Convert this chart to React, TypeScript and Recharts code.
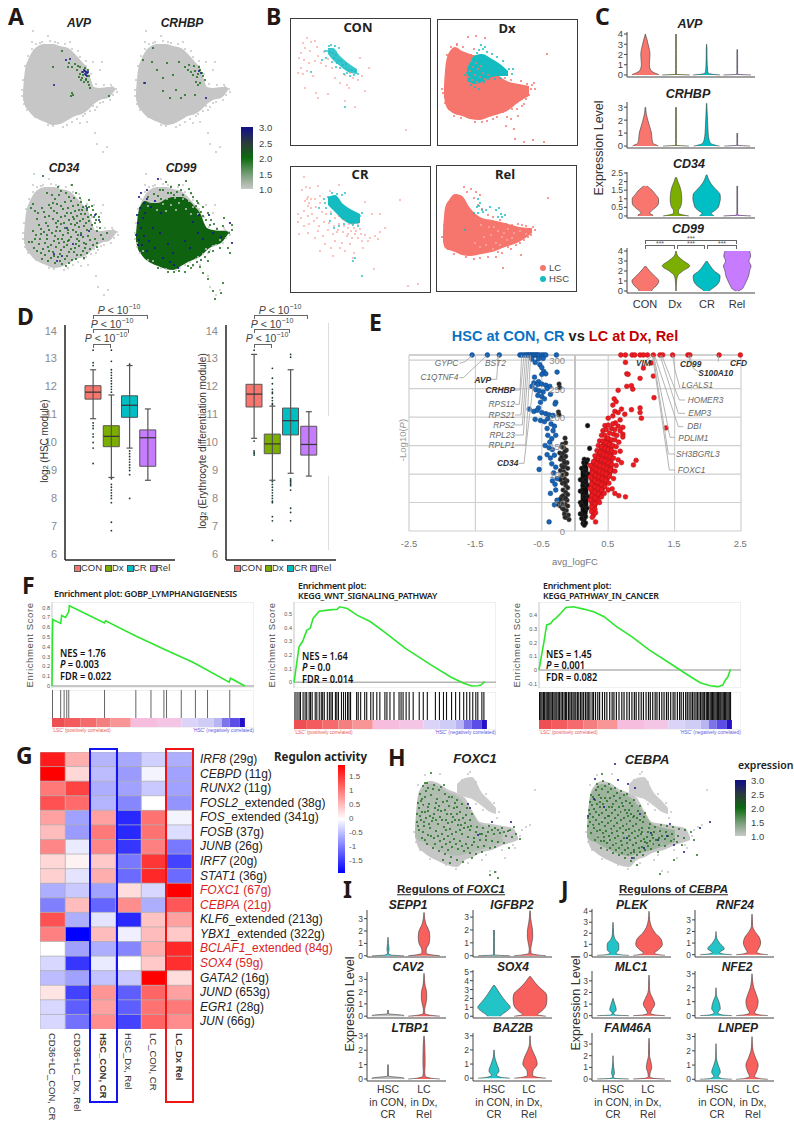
import React from "react";
import {
  Area,
  Bar,
  BarChart,
  CartesianGrid,
  Cell,
  ComposedChart,
  ErrorBar,
  Line,
  ReferenceArea,
  ReferenceLine,
  Scatter,
  XAxis,
  YAxis,
} from "recharts";

// ---------- UMAP outlines and points (panel A, B, H), in panel units ----------
const UMAP_X = [3, 5, 8, 12, 18, 25, 33, 40, 48, 55, 62, 68, 71, 74, 80, 88, 93, 95];
const UMAP_TOP = [62, 40, 30, 22, 16, 14, 14, 16, 18, 24, 32, 40, 50, 57, 58, 57, 57, 58];
const UMAP_BOTTOM = [68, 76, 80, 85, 89, 92, 95, 94, 90, 86, 84, 80, 77, 74, 70, 68, 63, 60];
const CD99_TOP = [62, 42, 32, 28, 30, 30, 26, 24, 24, 27, 34, 42, 50, 55, 57, 58, 58, 59];
const CD99_BOTTOM = [68, 76, 81, 86, 90, 93, 96, 97, 93, 89, 86, 83, 80, 77, 73, 70, 64, 61];
const UMAP_GREY = [[13, 1], [28, 6], [12, 12], [50, 12], [45, 18], [73, 32], [82, 32], [80, 40], [92, 57], [93, 65], [87, 67], [80, 73], [75, 80], [67, 92], [60, 93], [75, 103], [77, 114], [87, 117], [83, 122], [2, 60], [4, 70], [47, 95], [33, 96], [20, 88], [10, 78], [57, 89], [65, 84], [73, 76], [96, 59], [35, 12], [20, 13], [58, 21], [66, 31], [3, 50], [5, 36], [8, 26], [12, 19], [16, 14], [22, 12], [30, 11], [38, 13], [45, 14], [52, 19], [60, 27], [66, 36], [71, 44], [76, 54], [84, 55], [91, 55], [97, 62], [90, 70], [83, 72], [77, 77], [70, 81], [63, 86], [52, 92], [43, 97], [28, 95], [15, 87], [7, 80], [2, 66], [4, 74]];

const AVP_GREEN = [[57, 40], [60, 37], [62, 42], [65, 38], [63, 45], [66, 49], [68, 40], [69, 46], [60, 44], [58, 36], [66, 50], [68, 52], [62, 48], [69, 55], [70, 58], [52, 37], [48, 37], [42, 21], [55, 34], [49, 33], [33, 37], [52, 63], [53, 65], [51, 66], [89, 66], [61, 50], [64, 52], [59, 47]];
const AVP_BLUE = [[64, 40], [65, 41], [66, 42], [67, 43], [65, 44], [66, 45], [67, 46], [68, 42], [46, 30], [34, 55], [50, 29], [63, 42]];
const CRHBP_GREEN = [[65, 44], [62, 41], [60, 45], [67, 40], [69, 43], [64, 47], [70, 46], [58, 42], [66, 37], [61, 36], [10, 30], [19, 32], [20, 18], [34, 33], [30, 48], [24, 40], [11, 53], [52, 37], [55, 40], [40, 45], [67, 53], [52, 65], [48, 68], [62, 65], [37, 68], [56, 35], [46, 32], [63, 52], [65, 55], [30, 61], [43, 60], [72, 50]];
const CRHBP_BLUE = [[68, 43], [12, 53], [73, 68], [66, 41]];
const CD34_GREEN = [[22, 3], [37, 14], [45, 20], [51, 12], [26, 20], [31, 22], [38, 22], [48, 24], [53, 25], [60, 29], [68, 27], [62, 34], [66, 37], [72, 37], [75, 41], [70, 42], [78, 44], [64, 41], [58, 37], [52, 33], [44, 29], [36, 31], [28, 32], [12, 31], [10, 35], [17, 40], [23, 39], [33, 38], [42, 36], [50, 40], [56, 43], [62, 46], [68, 48], [74, 50], [79, 55], [70, 56], [63, 53], [56, 50], [48, 47], [40, 44], [32, 46], [25, 50], [18, 52], [12, 58], [8, 69], [14, 66], [20, 61], [28, 57], [36, 54], [44, 55], [52, 57], [60, 60], [67, 63], [74, 66], [80, 62], [86, 60], [72, 72], [65, 71], [58, 68], [50, 64], [42, 62], [34, 63], [26, 66], [18, 71], [13, 75], [22, 76], [30, 72], [38, 70], [46, 72], [54, 75], [62, 78], [56, 82], [48, 79], [40, 77], [32, 79], [24, 82], [30, 85], [37, 84], [44, 86], [51, 87], [41, 91], [34, 90], [27, 74], [21, 86], [45, 93], [47, 68], [35, 58], [57, 62], [66, 80], [76, 74], [53, 46], [37, 48], [16, 46], [59, 25], [24, 44], [46, 40], [71, 33], [55, 71]];
const CD34_GREEN2 = [[40, 18], [55, 20], [34, 26], [50, 28], [57, 32], [65, 33], [73, 44], [67, 44], [60, 41], [54, 38], [47, 35], [40, 33], [30, 35], [21, 35], [14, 38], [28, 43], [36, 40], [44, 43], [52, 44], [59, 48], [65, 50], [71, 52], [76, 58], [66, 57], [58, 54], [50, 51], [43, 50], [35, 50], [27, 53], [20, 56], [15, 62], [23, 59], [31, 60], [39, 58], [47, 60], [55, 59], [62, 64], [69, 67], [76, 70], [82, 66], [63, 70], [56, 66], [48, 67], [41, 66], [33, 68], [24, 70], [16, 78], [20, 80], [28, 78], [35, 74], [43, 74], [50, 76], [58, 73], [64, 75], [60, 82], [53, 79], [46, 83], [39, 81], [33, 83], [27, 88], [39, 88], [48, 90], [55, 86], [63, 85], [69, 76], [43, 69], [37, 66], [26, 62], [19, 66], [11, 69], [61, 37], [75, 47], [68, 34], [79, 49], [32, 30], [47, 57], [40, 51], [54, 52]];
const CD34_BLUE = [[66, 35], [74, 42], [78, 47], [60, 62], [52, 71], [33, 81], [41, 83], [68, 58], [46, 55], [36, 88]];
const CD99_GREEN = [[33, 9], [53, 8], [46, 12], [38, 14], [30, 17], [56, 16], [44, 19], [50, 22], [35, 20], [60, 24], [25, 23], [65, 30], [70, 34], [75, 40], [68, 39], [78, 47], [81, 51], [73, 47], [84, 56], [90, 53], [96, 60], [99, 52], [92, 62], [87, 75], [80, 78], [72, 84], [64, 89], [58, 95], [52, 99], [46, 98], [67, 94], [75, 88], [70, 100], [75, 106], [80, 118], [90, 110], [88, 120], [82, 126], [95, 75], [60, 92], [41, 99], [78, 70], [99, 57], [91, 45], [97, 80], [64, 28], [41, 22], [21, 21], [15, 24], [28, 26], [38, 20], [48, 17], [27, 17], [58, 20], [63, 33], [70, 43], [77, 52], [86, 60], [84, 68], [76, 79], [68, 87], [55, 93], [35, 99], [25, 95]];
const CD99_BLUE = [[25, 6], [14, 17], [8, 20], [6, 24], [11, 30], [14, 26], [4, 42], [7, 35], [10, 45], [5, 50], [8, 55], [3, 62], [6, 67], [9, 72], [5, 72], [11, 63], [14, 78], [12, 40], [18, 34], [22, 28], [28, 40], [20, 55], [27, 60], [35, 71], [40, 80], [37, 89], [41, 92], [45, 95], [30, 85], [57, 75], [52, 68], [65, 60], [70, 66], [80, 60], [88, 64], [97, 50], [99, 70], [60, 49], [66, 42], [16, 68], [22, 75], [76, 42]];
const CD99_GREY = [[34, 26], [42, 25], [50, 26], [56, 28], [30, 31], [38, 32], [46, 30], [60, 34], [53, 36], [24, 37], [43, 37], [65, 41], [15, 33], [33, 38], [58, 41]];
const H_X = [5, 8, 13, 20, 28, 37, 47, 55, 63, 70, 82, 93, 103, 108];
const H_TOP = [58, 25, 15, 11, 13, 19, 23, 28, 42, 52, 54, 56, 58, 67];
const H_BOTTOM = [67, 77, 82, 87, 91, 95, 97, 90, 87, 83, 80, 75, 72, 70];
const H_ARM_X = [47, 55, 62, 72, 80, 86];
const H_ARM_TOP = [14, 8, 7, 23, 31, 38];
const H_ARM_BOTTOM = [23, 27, 29, 36, 42, 44];
const H_MIX_X = [5, 8, 13, 20, 28, 37, 47, 55, 63, 70, 82, 93];
const H_MIX_TOP = [58, 28, 18, 14, 16, 22, 26, 34, 44, 54, 58, 60];
const H_MIX_BOTTOM = [67, 70, 72, 76, 80, 84, 86, 84, 82, 80, 76, 72];
const H_GREY = [[8, 15], [15, 5], [30, 4], [60, 2], [87, 48], [125, 20], [112, 60], [116, 57], [103, 75], [95, 88], [72, 90], [105, 78], [80, 101], [86, 102], [120, 55], [52, 10], [58, 4], [66, 12], [76, 24], [84, 33], [89, 42], [47, 26], [66, 34], [73, 40], [36, 95], [46, 99], [58, 93], [76, 85], [92, 80], [110, 66], [4, 62], [6, 72], [10, 80], [20, 89]];
const H_MOTTLE = [[18, 30], [26, 26], [34, 28], [42, 34], [14, 46], [22, 40], [32, 38], [40, 42], [50, 46], [58, 48], [66, 60], [10, 56], [20, 50], [30, 52], [38, 56], [46, 54], [54, 60], [62, 64], [74, 66], [84, 66], [16, 66], [26, 70], [34, 72], [44, 64], [52, 70], [60, 74], [70, 74], [80, 74], [24, 80], [36, 80], [46, 86], [56, 88], [66, 82], [12, 36], [28, 60], [38, 64], [48, 76], [92, 68], [76, 60], [42, 90]];
const FOXC1_GREEN = [[21, 3], [13, 16], [18, 18], [24, 15], [29, 20], [35, 24], [42, 27], [47, 30], [52, 34], [57, 38], [62, 44], [10, 24], [15, 27], [21, 25], [27, 29], [33, 32], [39, 36], [44, 38], [50, 42], [56, 45], [60, 50], [8, 33], [13, 35], [19, 34], [25, 38], [31, 41], [37, 44], [43, 47], [49, 50], [55, 53], [61, 56], [67, 57], [73, 58], [79, 56], [85, 58], [92, 58], [98, 61], [104, 57], [106, 64], [110, 69], [102, 67], [96, 66], [90, 63], [84, 64], [78, 62], [72, 64], [66, 62], [60, 60], [54, 58], [48, 55], [42, 52], [36, 50], [30, 47], [24, 44], [18, 41], [12, 42], [7, 44], [7, 52], [11, 50], [16, 48], [22, 51], [28, 54], [34, 57], [40, 59], [46, 62], [52, 64], [58, 67], [64, 68], [70, 70], [76, 70], [82, 71], [88, 72], [94, 73], [9, 60], [14, 56], [20, 58], [26, 61], [32, 64], [38, 66], [44, 69], [50, 71], [56, 74], [62, 75], [68, 77], [74, 76], [80, 78], [12, 68], [18, 65], [24, 68], [30, 71], [36, 74], [42, 77], [48, 79], [54, 81], [60, 83], [66, 84], [17, 74], [23, 78], [29, 81], [35, 84], [41, 87], [47, 90], [53, 92], [33, 90], [40, 93], [62, 88], [72, 82], [85, 77], [99, 78], [85, 102], [80, 105], [88, 108], [15, 13], [34, 15], [47, 37], [53, 48], [37, 31], [26, 33], [16, 21], [11, 31], [20, 46], [28, 40]];
const FOXC1_GREEN2 = [[17, 13], [23, 19], [31, 17], [39, 27], [45, 33], [12, 29], [18, 37], [29, 36], [35, 40], [41, 44], [47, 44], [9, 38], [15, 42], [23, 48], [32, 50], [38, 53], [45, 50], [51, 55], [58, 57], [10, 46], [14, 52], [26, 50], [19, 54], [36, 60], [42, 64], [50, 60], [8, 56], [13, 62], [21, 66], [28, 66], [34, 69], [40, 72], [46, 74], [15, 70], [25, 74], [32, 77], [38, 80], [52, 76], [58, 78], [64, 72], [70, 64], [76, 66], [82, 60], [88, 60], [94, 62], [100, 60]];
const FOXC1_BLUE = [[82, 52], [101, 52], [58, 34], [60, 38], [68, 65]];
const CEBPA_GREEN = [[20, 4], [15, 14], [21, 11], [27, 14], [33, 18], [39, 21], [45, 24], [52, 30], [58, 36], [63, 43], [9, 25], [14, 20], [20, 19], [26, 22], [32, 26], [38, 28], [44, 31], [50, 36], [56, 41], [62, 47], [68, 54], [8, 32], [13, 30], [19, 28], [25, 31], [31, 34], [37, 37], [43, 40], [49, 44], [55, 48], [61, 52], [67, 58], [73, 57], [79, 55], [85, 56], [91, 57], [97, 59], [103, 60], [109, 62], [112, 70], [7, 40], [12, 39], [18, 37], [24, 40], [30, 43], [36, 45], [42, 48], [48, 51], [54, 54], [60, 58], [66, 62], [72, 62], [78, 61], [84, 62], [90, 64], [96, 66], [102, 68], [6, 48], [11, 47], [17, 45], [23, 48], [29, 51], [35, 53], [41, 56], [47, 59], [53, 61], [59, 64], [65, 67], [71, 68], [77, 68], [83, 69], [89, 71], [95, 72], [6, 56], [11, 55], [17, 54], [23, 56], [29, 59], [35, 61], [41, 63], [47, 66], [53, 68], [59, 71], [65, 73], [71, 74], [77, 75], [83, 76], [9, 63], [15, 61], [21, 63], [27, 66], [33, 68], [39, 71], [45, 73], [51, 75], [57, 78], [63, 80], [69, 79], [13, 70], [19, 71], [25, 73], [31, 75], [37, 78], [43, 80], [49, 83], [55, 85], [61, 85], [19, 78], [25, 80], [31, 83], [37, 85], [43, 88], [49, 91], [55, 95], [63, 72], [76, 82], [100, 75], [115, 85], [92, 90], [78, 104], [40, 33], [30, 37], [18, 32], [46, 46], [22, 67], [52, 80], [60, 62], [70, 65], [26, 46]];
const CEBPA_GREEN2 = [[16, 17], [23, 16], [29, 19], [35, 23], [42, 25], [48, 33], [11, 27], [17, 25], [23, 28], [28, 28], [34, 31], [41, 36], [47, 40], [52, 46], [10, 35], [15, 34], [21, 34], [27, 37], [33, 40], [39, 42], [45, 43], [51, 47], [58, 50], [8, 44], [14, 42], [20, 43], [27, 46], [33, 48], [39, 50], [45, 54], [51, 56], [57, 60], [8, 52], [14, 50], [20, 52], [26, 53], [32, 56], [38, 58], [44, 60], [50, 63], [56, 66], [62, 69], [68, 71], [74, 70], [80, 66], [86, 66], [92, 69], [12, 58], [18, 60], [24, 61], [30, 63], [36, 66], [42, 68], [48, 70], [54, 73], [60, 77], [66, 76], [16, 67], [22, 71], [28, 70], [34, 73], [40, 75], [46, 78], [52, 82], [58, 82], [28, 78], [34, 80], [40, 83], [46, 85], [52, 88]];
const CEBPA_BLUE = [[13, 9], [36, 10], [46, 14], [53, 18], [12, 29], [6, 46], [58, 44], [62, 78], [50, 88], [69, 63], [85, 66], [92, 75], [118, 58], [128, 52], [102, 82], [22, 37], [33, -6], [88, 54], [45, 68], [76, 70]];

const CON_SALMON = [[13, 25], [17, 20], [21, 24], [25, 23], [15, 30], [20, 33], [11, 35], [9, 40], [14, 42], [19, 45], [25, 43], [28, 38], [31, 45], [11, 50], [8, 55], [13, 56], [17, 53], [23, 58], [15, 70], [26, 75], [38, 76], [28, 80], [55, 83], [65, 89], [50, 65], [57, 67], [59, 70], [63, 60], [68, 62], [72, 58], [75, 73], [79, 50], [70, 40], [34, 34], [38, 41], [36, 48], [42, 50], [55, 57], [60, 55], [45, 60], [116, 112], [27, 29]];
const CON_TEAL = [[39, 28], [41, 27], [45, 28], [49, 30], [37, 33], [40, 34], [43, 35], [46, 37], [44, 40], [48, 42], [51, 43], [53, 47], [56, 50], [59, 52], [62, 52], [65, 53], [68, 56], [64, 57], [60, 58], [56, 46], [50, 50], [46, 49], [32, 42], [35, 33], [54, 56], [57, 55], [21, 54], [55, 89], [42, 44], [47, 45], [36, 40]];
const CON_TEAL_X = [38, 43, 50, 58, 67];
const CON_TEAL_TOP = [30, 30, 38, 45, 51];
const CON_TEAL_BOTTOM = [36, 42, 48, 54, 56];
const DX_X = [7, 9, 13, 18, 25, 33, 42, 52, 62, 70, 82, 92];
const DX_TOP = [67, 43, 32, 28, 32, 35, 38, 50, 57, 62, 65, 67];
const DX_BOTTOM = [78, 87, 92, 95, 97, 100, 101, 98, 95, 92, 83, 77];
const DX_TEAL_X = [30, 37, 45, 55, 63, 71];
const DX_TEAL_TOP = [50, 37, 35, 40, 45, 52];
const DX_TEAL_BOTTOM = [60, 65, 63, 58, 57, 57];
const DX_SALMON = [[31, 18], [39, 17], [48, 19], [20, 25], [95, 66], [97, 64], [92, 76], [87, 85], [89, 80], [70, 98], [69, 107], [77, 110], [74, 100], [81, 97], [110, 35], [78, 120], [87, 123], [96, 121], [107, 123], [6, 74], [38, 103], [50, 102], [60, 98], [34, 36], [37, 30], [85, 87], [80, 90], [66, 93], [5, 70], [8, 84], [12, 90], [17, 97], [24, 99], [45, 103], [56, 100], [75, 90], [94, 70], [98, 70], [90, 65], [84, 62], [74, 61], [68, 59], [10, 36], [14, 28], [20, 26], [26, 28], [11, 80]];
const DX_TEAL = [[42, 31], [46, 30], [48, 28], [44, 26], [50, 33], [55, 35], [60, 38], [66, 42], [72, 50], [76, 50], [75, 55], [31, 62], [28, 56], [34, 66], [38, 68], [42, 62], [36, 58], [30, 54], [42, 70], [47, 63], [34, 46], [37, 42], [40, 34], [52, 60], [58, 60], [63, 59]];
const DX_SALMON_IN = [[33, 52], [38, 56], [43, 58], [36, 48], [41, 50], [46, 54], [35, 61], [40, 63], [31, 58], [44, 47], [48, 60], [39, 44], [51, 56], [34, 42]];
const CR_SALMON = [[14, 11], [16, 21], [12, 24], [20, 22], [28, 20], [40, 25], [49, 19], [18, 31], [15, 35], [17, 33], [19, 37], [21, 33], [25, 33], [30, 30], [18, 40], [21, 42], [26, 41], [30, 37], [8, 48], [11, 52], [14, 45], [18, 50], [22, 48], [27, 52], [32, 46], [36, 48], [41, 46], [45, 52], [8, 56], [14, 60], [19, 58], [24, 55], [29, 60], [34, 56], [39, 57], [44, 60], [49, 58], [54, 60], [59, 58], [64, 62], [68, 58], [9, 68], [18, 67], [28, 65], [33, 70], [38, 64], [43, 68], [48, 64], [53, 66], [58, 68], [62, 72], [65, 68], [70, 63], [75, 69], [80, 72], [85, 70], [90, 66], [95, 62], [88, 73], [78, 75], [72, 75], [60, 78], [52, 77], [45, 75], [41, 82], [50, 82], [55, 85], [64, 87], [43, 90], [68, 72], [82, 48], [90, 48], [75, 36], [110, 34], [118, 120], [128, 118], [84, 103], [63, 92], [57, 70], [73, 82], [62, 58], [55, 54], [49, 50], [61, 65], [66, 65], [71, 68], [25, 72], [35, 78], [30, 85], [47, 66], [58, 62]];
const CR_TEAL = [[42, 27], [47, 28], [52, 29], [55, 27], [38, 31], [34, 33], [29, 42], [36, 42], [41, 48], [47, 45], [52, 50], [58, 55], [63, 59], [68, 60], [70, 50], [72, 47], [65, 92], [72, 110], [63, 95], [44, 62], [40, 55], [49, 60], [54, 58], [35, 37]];
const CR_TEAL_X = [38, 45, 53, 62, 70];
const CR_TEAL_TOP = [31, 29, 38, 44, 48];
const CR_TEAL_BOTTOM = [39, 46, 54, 58, 57];
const REL_X = [7, 9, 13, 19, 26, 34, 46, 56, 69, 83, 96];
const REL_TOP = [67, 43, 35, 29, 31, 43, 53, 55, 58, 62, 63];
const REL_BOTTOM = [77, 83, 85, 87, 90, 91, 89, 87, 82, 77, 68];
const REL_SALMON = [[28, 22], [35, 24], [40, 27], [31, 27], [44, 30], [38, 33], [42, 40], [46, 44], [52, 50], [57, 52], [64, 55], [70, 59], [76, 60], [82, 59], [90, 61], [97, 62], [99, 65], [95, 70], [88, 75], [80, 80], [72, 82], [85, 90], [84, 78], [66, 88], [60, 92], [52, 92], [44, 93], [112, 33], [67, 103], [62, 87], [6, 72], [8, 60], [12, 84], [18, 89], [30, 92], [38, 94], [75, 84], [92, 72], [86, 60]];
const REL_WHITE = [[72, 64], [78, 68], [66, 72], [60, 78], [55, 70], [84, 66], [71, 75], [62, 66], [50, 80], [76, 73], [58, 62], [68, 68], [53, 62], [48, 72], [44, 82], [64, 80], [57, 84], [39, 78], [45, 60], [90, 69]];
const REL_TEAL = [[42, 34], [44, 38], [43, 41], [46, 45], [42, 48], [50, 45], [54, 42], [60, 45], [63, 43], [65, 49], [69, 50], [66, 52], [62, 52], [41, 42], [38, 48], [29, 65], [47, 47]];

// ---------- violin profiles: half-widths at each expression level ----------
const LV_AVP = [0, 0.06, 0.2, 0.5, 1, 1.5, 2, 2.5, 3, 3.5, 4];
const AVP_CON = [0.44, 0.42, 0.3, 0.17, 0.13, 0.14, 0.15, 0.13, 0.09, 0.05, 0];
const AVP_DX = [0.45, 0.02, 0.012, 0.012, 0.012, 0.012, 0.012, 0.012, 0.012, 0.012, 0.012];
const AVP_CR = [0.44, 0.2, 0.05, 0.03, 0.02, 0.015, 0.012, 0.012, 0];
const AVP_REL = [0.45, 0.02, 0.012, 0.012, 0.012, 0.012, 0.012, 0.01];
const LV_CRHBP = [0, 0.06, 0.2, 0.5, 1, 1.5, 2, 2.5, 3, 3.3];
const CRHBP_CON = [0.42, 0.38, 0.25, 0.22, 0.2, 0.14, 0.08, 0.03, 0.01];
const CRHBP_DX = [0.42, 0.015, 0.012, 0.012, 0.012, 0.012, 0.012, 0.012, 0.012];
const CRHBP_CR = [0.42, 0.3, 0.14, 0.08, 0.05, 0.04, 0.03, 0.02, 0.01, 0.005];
const CRHBP_REL = [0.42, 0.015, 0.012, 0.012, 0.012];
const LV_CD34 = [0, 0.05, 0.15, 0.3, 0.5, 0.75, 1, 1.25, 1.5, 1.75, 2, 2.25, 2.4];
const CD34_CON = [0.24, 0.24, 0.14, 0.2, 0.34, 0.43, 0.43, 0.33, 0.22, 0.05];
const CD34_DX = [0.42, 0.25, 0.08, 0.08, 0.14, 0.18, 0.19, 0.18, 0.16, 0.12, 0.06, 0.02];
const CD34_CR = [0.24, 0.2, 0.15, 0.26, 0.38, 0.42, 0.45, 0.44, 0.33, 0.2, 0.1, 0.04, 0.01];
const CD34_REL = [0.45, 0.03, 0.012, 0.012, 0.012, 0.012, 0.012, 0.012, 0.012, 0.012];
const LV_CD99 = [0, 0.2, 0.5, 1, 1.5, 2, 2.5, 3, 3.5, 4];
const CD99_CON = [0.2, 0.24, 0.35, 0.44, 0.3, 0.14, 0.01];
const CD99_DX = [0.005, 0.01, 0.01, 0.02, 0.05, 0.22, 0.45, 0.25, 0.06, 0.005];
const CD99_CR = [0.08, 0.16, 0.3, 0.42, 0.44, 0.25, 0.12, 0.01];
const CD99_REL = [0.03, 0.16, 0.22, 0.3, 0.37, 0.4, 0.45, 0.38, 0.44, 0.4];

const LV_REG = [0, 0.06, 0.2, 0.5, 1, 1.5, 2, 2.5, 3, 3.5, 4];
const LV_SOX4 = [0, 0.2, 0.5, 1, 1.5, 2, 2.5, 3, 3.5, 4, 4.5, 5];
const SEPP1_V = [[0.44, 0.08, 0.012, 0.03, 0.012, 0], [0.44, 0.25, 0.06, 0.06, 0.14, 0.16, 0.14, 0.06, 0.02, 0.005]];
const IGFBP2_V = [[0.44, 0.012, 0.012, 0.012, 0.012, 0.012, 0.012], [0.44, 0.22, 0.03, 0.02, 0.05, 0.075, 0.07, 0.04, 0.015, 0.005]];
const CAV2_V = [[0.44, 0.44, 0.012, 0.012], [0.44, 0.22, 0.03, 0.015, 0.05, 0.075, 0.07, 0.03, 0.012, 0]];
const SOX4_V = [[0.18, 0.22, 0.33, 0.45, 0.36, 0.26, 0.17, 0.09, 0.01], [0.44, 0.2, 0.3, 0.42, 0.46, 0.47, 0.45, 0.33, 0.2, 0.1, 0.01]];
const LTBP1_V = [[0.44, 0.44, 0.012, 0.012, 0.01], [0.44, 0.18, 0.03, 0.02, 0.03, 0.03, 0.025, 0.02, 0]];
const BAZ2B_V = [[0.44, 0.2, 0.07, 0.14, 0.08, 0.02, 0.005], [0.44, 0.22, 0.07, 0.08, 0.2, 0.15, 0.06, 0.01, 0.005]];
const PLEK_V = [[0.44, 0.2, 0.08, 0.16, 0.16, 0.05, 0.015, 0.01, 0], [0.44, 0.28, 0.15, 0.26, 0.37, 0.33, 0.18, 0.08, 0.03, 0.01, 0]];
const RNF24_V = [[0.44, 0.2, 0.1, 0.23, 0.1, 0.015, 0], [0.44, 0.25, 0.13, 0.18, 0.24, 0.2, 0.08, 0.015, 0.01, 0]];
const MLC1_V = [[0.44, 0.06, 0.02, 0.09, 0.05, 0], [0.44, 0.18, 0.04, 0.08, 0.16, 0.1, 0.03, 0.012, 0.01, 0]];
const NFE2_V = [[0.44, 0.15, 0.05, 0.12, 0.08, 0.01, 0], [0.44, 0.2, 0.07, 0.13, 0.17, 0.12, 0.05, 0.015, 0]];
const FAM46A_V = [[0.44, 0.05, 0.01, 0.04, 0.02, 0.005, 0], [0.44, 0.12, 0.02, 0.03, 0.075, 0.05, 0.015, 0.012, 0.01, 0]];
const LNPEP_V = [[0.44, 0.15, 0.06, 0.12, 0.06, 0.01, 0.005, 0], [0.44, 0.2, 0.07, 0.12, 0.17, 0.1, 0.03, 0.01, 0]];

// ---------- boxplots (panel D) ----------
const GROUPS = ["CON", "Dx", "CR", "Rel"];
const GROUP_COLORS = ["#f8766d", "#7cae00", "#00bfc4", "#c77cff"];
const HSC_Q1 = [11.55, 9.85, 10.9, 9.15];
const HSC_MED = [11.8, 10.22, 11.33, 10.17];
const HSC_Q3 = [12.03, 10.6, 11.67, 10.45];
const HSC_LOW = [10.85, 8.75, 9.8, 8.65];
const HSC_HIGH = [12.6, 11.7, 12.75, 11.2];
const HSC_OUT = [
  [13.3, 12.85, 12.75, 10.7, 10.6, 10.5, 10.3, 10.2, 10.0, 9.8, 9.25],
  [13.3, 12.9, 12.6, 12.5, 12.4, 12.3, 12.2, 12.1, 12, 11.9, 11.8, 8.7, 8.5, 8.4, 8.3, 8.2, 8.1, 8, 7.85, 7.15, 6.85],
  [12.8, 9.7, 9.6, 9.5, 9.4, 9.3, 9.2, 9.1, 9, 8.85, 8.0],
  [],
];
const ERY_Q1 = [11.27, 9.6, 10.27, 9.55];
const ERY_MED = [11.73, 9.95, 10.78, 9.93];
const ERY_Q3 = [12.08, 10.3, 11.23, 10.58];
const ERY_LOW = [10.15, 8.65, 8.9, 8.8];
const ERY_HIGH = [13.15, 11.3, 12.6, 11.1];
const ERY_OUT = [
  [13.3, 10.05, 9.7, 9.65, 9.6, 9.55],
  [12.65, 12.3, 12.1, 11.9, 11.8, 11.75, 11.6, 11.5, 11.4, 11.35, 8.6, 8.5, 8.4, 8.3, 8.2, 8.1, 8, 7.9, 7.85, 7.35, 7.2, 6.5],
  [13.15, 13.05, 8.7, 8.65, 8.6, 8.55, 8.5, 8.45, 8.3, 7.65, 7.5, 7.2],
  [],
];

// ---------- volcano (panel E): [avg_logFC, -log10 P] ----------
const VOLCANO_BLUE = [[-1.55, 309], [-1.32, 309], [-1.14, 309], [-0.83, 309], [-0.8, 309], [-0.77, 309], [-0.74, 309], [-0.72, 309], [-0.7, 309], [-0.68, 309], [-0.66, 309], [-0.64, 309], [-0.62, 309], [-0.6, 309], [-0.58, 309], [-0.56, 309], [-0.54, 309], [-0.5, 309], [-0.47, 309], [-0.44, 309], [-0.28, 309], [-0.65, 302], [-0.55, 302], [-0.48, 303], [-0.53, 292], [-0.6, 296], [-0.5, 287], [-0.47, 280], [-0.44, 276], [-0.27, 279], [-0.61, 270], [-0.5, 275], [-0.55, 262], [-0.62, 260], [-0.56, 257], [-0.5, 258], [-0.44, 256], [-0.38, 254], [-0.65, 254], [-0.59, 248], [-0.54, 246], [-0.48, 244], [-0.42, 250], [-0.37, 240], [-0.5, 236], [-0.56, 238], [-0.46, 232], [-0.52, 226], [-0.29, 226], [-0.3, 223], [-0.55, 216], [-0.69, 214], [-0.62, 210], [-0.57, 212], [-0.5, 208], [-0.44, 206], [-0.39, 204], [-0.33, 203], [-0.6, 196], [-0.52, 194], [-0.46, 192], [-0.41, 197], [-0.36, 188], [-0.31, 184], [-0.42, 180], [-0.33, 176], [-0.41, 168], [-0.35, 162], [-0.38, 156], [-0.29, 168], [-0.45, 150], [-0.39, 146], [-0.34, 143], [-0.42, 134], [-0.37, 128], [-0.53, 128], [-0.31, 133], [-0.35, 118], [-0.29, 112], [-0.54, 108], [-0.32, 102], [-0.27, 92], [-0.34, 88], [-0.37, 66], [-0.3, 82], [-0.31, 46], [-0.27, 54], [-0.39, 16], [-0.29, 72]];
const VOLCANO_BLACK_L = [[-0.24, 258], [-0.23, 252], [-0.25, 209], [-0.24, 204], [-0.15, 163], [-0.14, 155], [-0.19, 152], [-0.2, 148], [-0.17, 146], [-0.13, 142], [-0.23, 137], [-0.18, 136], [-0.14, 131], [-0.22, 126], [-0.17, 124], [-0.12, 120], [-0.2, 115], [-0.15, 113], [-0.11, 110], [-0.22, 106], [-0.17, 104], [-0.13, 100], [-0.2, 95], [-0.16, 92], [-0.12, 88], [-0.19, 84], [-0.14, 80], [-0.11, 76], [-0.18, 72], [-0.14, 68], [-0.11, 64], [-0.2, 60], [-0.16, 57], [-0.12, 54], [-0.24, 52], [-0.2, 50], [-0.15, 47], [-0.11, 44], [-0.19, 40], [-0.13, 36], [-0.16, 30], [-0.1, 28], [-0.13, 24], [-0.22, 56], [-0.25, 46], [-0.09, 20], [-0.18, 112], [-0.16, 120], [-0.2, 130], [-0.15, 140], [-0.18, 100], [-0.22, 90], [-0.15, 85], [-0.18, 62], [-0.14, 58], [-0.22, 44], [-0.17, 38], [-0.15, 24]];
const VOLCANO_BLACK_CORE_X = [0.085, 0.12, 0.16, 0.2];
const VOLCANO_BLACK_CORE_LOW = [20, 12, 15, 40];
const VOLCANO_BLACK_CORE_HIGH = [105, 118, 122, 110];
const VOLCANO_BLACK_R = [[0.19, 185], [0.22, 145], [0.19, 125], [0.14, 126], [0.12, 13], [0.14, 10], [0.16, 14], [0.08, 30], [0.08, 50], [0.08, 70], [0.08, 90], [0.1, 110], [0.13, 120], [0.17, 120], [0.2, 100], [0.2, 80], [0.2, 60], [0.18, 40], [0.1, 22], [0.16, 25], [0.14, 60], [0.12, 80], [0.16, 90], [0.1, 45], [0.15, 105]];
const VOLCANO_RED_CORE_X = [0.22, 0.28, 0.34, 0.4, 0.46, 0.52, 0.58];
const VOLCANO_RED_CORE_LOW = [35, 25, 45, 60, 75, 90, 105];
const VOLCANO_RED_CORE_HIGH = [115, 128, 140, 155, 165, 165, 150];
const VOLCANO_RED = [[0.69, 309], [0.76, 309], [0.86, 309], [0.9, 309], [0.98, 309], [1.03, 309], [1.09, 309], [1.18, 309], [1.28, 309], [1.32, 309], [1.47, 309], [1.7, 309], [1.73, 309], [2.17, 309], [2.49, 309], [0.76, 296], [1.15, 295], [1.03, 286], [0.78, 276], [0.8, 275], [0.98, 268], [1.18, 272], [0.78, 254], [0.85, 255], [0.87, 249], [0.65, 247], [1.19, 234], [0.59, 232], [0.62, 227], [0.57, 221], [0.7, 214], [0.85, 213], [0.98, 216], [0.98, 208], [0.6, 210], [0.65, 208], [0.75, 205], [0.57, 202], [0.68, 195], [1.0, 198], [0.5, 198], [0.61, 190], [0.57, 188], [0.65, 184], [0.72, 182], [0.45, 185], [0.5, 186], [0.55, 180], [0.6, 178], [0.68, 176], [1.37, 181], [0.42, 176], [0.47, 178], [0.52, 172], [0.58, 170], [0.63, 168], [0.72, 170], [0.4, 168], [0.45, 168], [0.5, 163], [0.55, 160], [0.6, 160], [0.66, 156], [0.72, 165], [0.37, 158], [0.42, 158], [0.47, 155], [0.52, 152], [0.57, 150], [0.62, 148], [0.35, 150], [0.4, 148], [0.45, 145], [0.5, 143], [0.55, 141], [0.6, 138], [0.68, 140], [0.33, 141], [0.38, 138], [0.43, 135], [0.48, 133], [0.53, 131], [0.58, 128], [0.65, 125], [0.3, 132], [0.35, 128], [0.4, 125], [0.45, 123], [0.5, 120], [0.55, 117], [0.62, 115], [0.7, 120], [0.28, 122], [0.33, 118], [0.38, 115], [0.43, 113], [0.48, 110], [0.53, 107], [0.6, 105], [0.88, 116], [0.92, 124], [0.27, 112], [0.32, 108], [0.37, 105], [0.42, 102], [0.47, 100], [0.52, 96], [0.58, 92], [0.26, 102], [0.31, 98], [0.36, 95], [0.41, 92], [0.46, 89], [0.51, 84], [0.25, 92], [0.3, 88], [0.35, 85], [0.4, 82], [0.45, 78], [0.5, 72], [0.56, 74], [0.6, 66], [0.25, 82], [0.3, 78], [0.35, 75], [0.4, 72], [0.25, 72], [0.3, 68], [0.35, 65], [0.4, 60], [0.25, 62], [0.3, 58], [0.35, 54], [0.25, 52], [0.3, 48], [0.37, 50], [0.25, 42], [0.3, 38], [0.25, 34], [0.28, 28], [0.26, 24], [0.31, 32], [0.31, 16], [0.76, 60], [0.66, 62], [0.44, 66], [0.23, 115], [0.23, 95], [0.23, 75], [0.23, 55]];

// ---------- GSEA curves and hit positions (panel F), rank in % of the gene list ----------
const F1_RANK = [0, 0.2, 0.4, 4.3, 4.8, 6.7, 8.3, 8.6, 26, 26.5, 41.5, 55, 70, 87.7, 88.4, 95.5];
const F1_ES = [0, 0.5, 0.68, 0.64, 0.72, 0.7, 0.76, 0.82, 0.645, 0.665, 0.51, 0.38, 0.24, 0.04, 0.08, 0];
const F1_HITS = [0.25, 4.3, 6, 7.3, 8.3, 26, 41.5, 49, 55.4, 56.7, 64, 71, 77, 88];
const F2_RANK = [0, 2.5, 4.3, 6.3, 8, 9.5, 12.5, 17.6, 21.4, 22.6, 26.4, 31.4, 37.7, 45, 55, 67.8, 77.8, 84, 88, 91.2, 92.5, 94.5];
const F2_ES = [0, 0.26, 0.3, 0.38, 0.395, 0.47, 0.52, 0.53, 0.535, 0.553, 0.54, 0.49, 0.445, 0.365, 0.25, 0.127, 0.037, -0.007, -0.027, -0.025, -0.02, 0.005];
const F2_HITS = [0.5, 1.5, 2.5, 3.2, 4.5, 5.5, 6.3, 7.5, 8.2, 9, 10.5, 11.3, 12.5, 13.5, 14.2, 15, 16.5, 17.5, 18.3, 19, 20.5, 21.2, 22, 23.5, 24.5, 25.5, 26.5, 27.2, 28, 31, 31.8, 33, 35, 36, 38, 39.2, 41, 42.5, 45, 46, 47.5, 49.5, 52, 53, 54, 55.5, 57, 59, 62, 64, 66, 70, 72, 74, 75.5, 78, 80, 82, 84, 85.5, 87, 88.5, 90, 91, 93, 94];
const F3_RANK = [0, 1.3, 2.5, 3.8, 5.8, 7, 8.3, 10.8, 13.3, 17, 22.1, 27.1, 32.2, 38.4, 45.9, 54.7, 64.8, 72.3, 79.8, 84.8, 88.6, 91, 92.3, 93.5, 94.8];
const F3_ES = [0, 0.11, 0.21, 0.33, 0.34, 0.365, 0.378, 0.415, 0.458, 0.463, 0.446, 0.427, 0.39, 0.317, 0.244, 0.146, 0.049, -0.024, -0.093, -0.115, -0.122, -0.11, -0.073, -0.05, 0.005];
const F3_HITS = [0.3, 0.9, 1.5, 2.2, 2.8, 3.5, 4.1, 4.8, 5.4, 6, 6.7, 7.4, 8, 8.8, 9.5, 10.1, 10.9, 11.6, 12.4, 13.1, 13.7, 14.6, 15.3, 16, 16.8, 17.4, 18.2, 19, 19.7, 20.6, 21.3, 22.1, 23, 23.8, 24.4, 25.2, 26.3, 27, 28, 29.1, 30, 31.4, 32.5, 33.6, 35, 36.2, 37.1, 38.3, 39.6, 41, 42.1, 43.5, 44.7, 46, 47.2, 48.1, 49.4, 50.6, 51.7, 53, 54.2, 55.1, 56.3, 57.5, 58.4, 59.6, 60.8, 61.9, 63.1, 64, 65.2, 66.4, 67.3, 68.5, 69.6, 70.4, 71.5, 72.6, 73.4, 74.3, 75.2, 76, 76.8, 77.7, 78.4, 79.2, 80, 80.7, 81.3, 82, 82.8, 83.4, 84, 84.7, 85.3, 85.9, 86.5, 87.1, 87.7, 88.3, 88.9, 89.5, 90, 90.6, 91.2, 91.8, 92.4, 93, 93.6, 94.2, 94.8];
const RIBBON_ENDS = [6, 14, 22, 29, 39, 52, 64, 72, 80, 84, 88, 93, 95.5];
const RIBBON_COLORS = ["#ee4f52", "#f45b5f", "#f56a6d", "#f37f80", "#f89697", "#f7bddf", "#f5c5e6", "#dcd4f6", "#cfccf5", "#b9b5f2", "#7d74ea", "#5b4de6", "#2410c6"];

// ---------- regulon heatmap (panel G) ----------
const REG_GENES = ["IRF8", "CEBPD", "RUNX2", "FOSL2", "FOS", "FOSB", "JUNB", "IRF7", "STAT1", "FOXC1", "CEBPA", "KLF6", "YBX1", "BCLAF1", "SOX4", "GATA2", "JUND", "EGR1", "JUN"];
const REG_SUFFIX = [" (29g)", " (11g)", " (11g)", "_extended (38g)", "_extended (341g)", " (37g)", " (26g)", " (20g)", " (36g)", " (67g)", " (21g)", "_extended (213g)", "_extended (322g)", "_extended (84g)", " (59g)", " (16g)", " (653g)", " (28g)", " (66g)"];
const REG_RED = ["FOXC1", "CEBPA", "BCLAF1", "SOX4"];
const HEAT_COLS = ["CD36+LC_CON, CR", "CD36+LC_Dx, Rel", "HSC_CON, CR", "HSC_Dx, Rel", "LC_CON, CR", "LC_Dx Rel"];
const HEAT_VALUES = [
  [1.7, 0.6, -0.55, -0.65, -0.35, -0.6],
  [1.9, 0.3, -0.5, -0.75, -0.08, -0.7],
  [1.0, 1.4, -0.6, -0.7, -0.4, -0.7],
  [1.3, 1.1, -0.55, -0.9, 0, -0.8],
  [0.7, -0.7, 0.7, -1.6, 1.05, -0.08],
  [0.5, -0.75, 1.0, -1.6, 1.05, -0.25],
  [0.9, -0.15, 0.9, -1.5, 0.95, -1.0],
  [0.3, 0.1, 0.4, -1.0, 1.5, -1.4],
  [0.35, -0.2, 0.6, -1.1, 1.6, -1.1],
  [-0.6, -0.4, -0.7, 0.25, -0.3, 1.9],
  [-0.95, 0.5, -1.15, 0.85, -0.6, 1.25],
  [1.3, -0.6, -0.2, -1.6, 0.45, 0.7],
  [0.95, -1.9, 0.5, -0.12, 0.5, 0.4],
  [0, -0.7, -0.6, -0.9, 0.6, 1.6],
  [-0.3, -1.5, -0.15, 0, 0.4, 1.55],
  [-0.5, -0.7, -0.45, -0.4, 1.9, 0.25],
  [0.2, -1.4, 0.8, -1.2, 1.15, 0.7],
  [-0.3, -1.2, 0.7, -1.2, 1.05, 1.0],
  [-0.3, -1.05, 0.85, -1.4, 1.15, 0.85],
];

const SANS = '"Liberation Sans", Arial, sans-serif';
const GREY = "#c6c6c6";
const GREEN = "#11690f";
const NAVY = "#17178a";
const SALMON = "#f6756c";
const TEAL = "#14bcc2";

const band = (xs: number[], tops: number[], bottoms: number[]) =>
  xs.map((x, i) => ({ x, band: [tops[i], bottoms[i]] }));
const pts = (list: number[][]) => list.map(([x, y]) => ({ x, y }));
const dot = (r: number, fill: string, stroke = "none") => (p: any) =>
  <circle cx={p.cx} cy={p.cy} r={r} fill={fill} stroke={stroke} strokeWidth={0.5} />;

function T({ x, y, c, style, children }: any) {
  return (
    <div
      style={{
        position: "absolute",
        left: x,
        top: y,
        lineHeight: 1,
        whiteSpace: "nowrap",
        fontFamily: SANS,
        transform: c ? "translate(-50%,-50%)" : "translateY(-50%)",
        ...style,
      }}
    >
      {children}
    </div>
  );
}

const Letter = ({ x, y, children }: any) => (
  <T x={x} y={y} style={{ fontFamily: '"Noto Sans"', fontWeight: 700, fontSize: 23, color: "#231815" }}>
    {children}
  </T>
);

const Title = ({ x, y, children, size = 12 }: any) => (
  <T x={x} y={y} c style={{ fontWeight: 700, fontStyle: "italic", fontSize: size, color: "#222" }}>
    {children}
  </T>
);

// one UMAP panel: filled bands for the dense core, points on top
function Umap({ left, top, w = 115, h = 128, ux = 115, uy = 128, y0 = 0, bands = [], layers = [] }: any) {
  return (
    <div style={{ position: "absolute", left, top }}>
      <ComposedChart width={w} height={h} margin={{ top: 0, right: 0, bottom: 0, left: 0 }}>
        <XAxis dataKey="x" type="number" domain={[0, ux]} hide allowDataOverflow />
        <YAxis dataKey="y" type="number" domain={[y0, uy]} hide reversed allowDataOverflow />
        {bands.map((b: any, i: number) => (
          <Area
            key={i}
            data={b.data}
            dataKey="band"
            type="monotone"
            stroke="none"
            fill={b.fill}
            fillOpacity={b.opacity ?? 1}
            dot={false}
            activeDot={false}
            isAnimationActive={false}
          />
        ))}
        {layers.map((l: any, i: number) => (
          <Scatter key={i} data={pts(l.points)} dataKey="y" shape={dot(l.r ?? 1, l.fill)} isAnimationActive={false} />
        ))}
      </ComposedChart>
    </div>
  );
}

function Frame({ x, y, w, h, title, tx, ty }: any) {
  return (
    <>
      <div style={{ position: "absolute", left: x, top: y, width: w, height: h, border: "1.6px solid #3c3c3c", boxSizing: "border-box" }} />
      <T x={tx} y={ty} c style={{ fontFamily: '"Noto Sans"', fontWeight: 700, fontSize: 13, color: "#222" }}>{title}</T>
    </>
  );
}

function ColorBar({ x, y, h, labels, lx, w = 12 }: any) {
  return (
    <>
      <div
        style={{
          position: "absolute",
          left: x,
          top: y,
          width: w,
          height: h,
          background: "linear-gradient(to top,#c8c8c8 0%,#7da17d 22%,#0c6a10 50%,#2c3b3c 74%,#14147f 96%)",
        }}
      />
      {labels.map((l: string, i: number) => (
        <T key={l} x={lx} y={y + (i * h) / (labels.length - 1) + 1} style={{ fontSize: 9.5, color: "#444" }}>{l}</T>
      ))}
    </>
  );
}

// violins: one Area per group, band = centre +/- half-width at each level
function Violin({ x, top, w, h, yMin, yMax, ticks, levels, widths, colors, centers, xDomain, font = 9.5, yw = 20 }: any) {
  const series = widths.map((v: any[], k: number) =>
    levels.flatMap((level: number, i: number) =>
      v[i] == null ? [] : [{ level, band: [centers[k] - v[i], centers[k] + v[i]] }]
    )
  );
  return (
    <div style={{ position: "absolute", left: x - yw, top: top - 6 }}>
      <ComposedChart layout="vertical" width={w + yw} height={h + 10} margin={{ top: 6, right: 0, bottom: 0, left: 0 }}>
        <XAxis type="number" domain={xDomain} ticks={centers} tick={false} tickSize={3} height={4} stroke="#444" allowDataOverflow />
        <YAxis
          type="number"
          dataKey="level"
          reversed
          domain={[yMin, yMax]}
          ticks={ticks}
          width={yw}
          tickSize={3}
          tickMargin={1}
          tick={{ fontSize: font, fill: "#444", fontFamily: SANS }}
          stroke="#444"
          interval={0}
          allowDataOverflow
        />
        {series.map((rows: any[], k: number) => (
          <Area
            key={k}
            data={rows}
            dataKey="band"
            type="monotone"
            fill={colors[k]}
            fillOpacity={1}
            stroke="#3a3a3a"
            strokeWidth={0.6}
            dot={false}
            activeDot={false}
            isAnimationActive={false}
          />
        ))}
      </ComposedChart>
    </div>
  );
}

function BoxPlot({ left, q1, med, q3, low, high, out }: any) {
  const rows = GROUPS.map((name, i) => ({
    name,
    box: [q1[i], q3[i]],
    med: med[i],
    err: [med[i] - low[i], high[i] - med[i]],
  }));
  const outliers = GROUPS.flatMap((name, i) => out[i].map((y: number) => ({ name, y })));
  return (
    <div style={{ position: "absolute", left: left - 30, top: 325 }}>
      <ComposedChart data={rows} width={140} height={239} margin={{ top: 0, right: 0, bottom: 0, left: 0 }}>
        <XAxis
          dataKey="name"
          type="category"
          allowDuplicatedCategory={false}
          padding={{ left: 19, right: 18 }}
          tick={false}
          tickLine={false}
          height={4}
          stroke="#222"
          strokeWidth={1.5}
        />
        <YAxis
          type="number"
          domain={[5.8, 14.2]}
          ticks={[6, 7, 8, 9, 10, 11, 12, 13, 14]}
          interval={0}
          width={30}
          tickLine={false}
          tickMargin={2}
          tick={{ fontSize: 11, fill: "#8a8a8a", fontFamily: SANS }}
          stroke="#222"
          strokeWidth={1.5}
          allowDataOverflow
        />
        <Scatter dataKey="med" shape={() => <g />} isAnimationActive={false}>
          <ErrorBar dataKey="err" direction="y" width={3} stroke="#555" strokeWidth={1.2} isAnimationActive={false} />
        </Scatter>
        <Scatter data={outliers} dataKey="y" shape={dot(0.9, "#1c3a3a")} isAnimationActive={false} />
        <Bar dataKey="box" barSize={16} stroke="#555" strokeWidth={1} isAnimationActive={false}>
          {rows.map((r, i) => (
            <Cell key={r.name} fill={GROUP_COLORS[i]} />
          ))}
        </Bar>
        <Scatter
          dataKey="med"
          shape={(p: any) => <line x1={p.cx - 8} x2={p.cx + 8} y1={p.cy} y2={p.cy} stroke="#333" strokeWidth={1.2} />}
          isAnimationActive={false}
        />
      </ComposedChart>
    </div>
  );
}

function Bracket({ x1, x2, y }: any) {
  return <div style={{ position: "absolute", left: x1, top: y, width: x2 - x1, height: 4, borderTop: "1px solid #666", borderLeft: "1px solid #666", borderRight: "1px solid #666", boxSizing: "border-box" }} />;
}

const PVal = ({ x, y }: any) => (
  <T x={x} y={y} c style={{ fontSize: 10.5, color: "#444" }}>
    <i>P</i> &lt; 10<sup style={{ fontSize: 7, lineHeight: 0 }}>−10</sup>
  </T>
);

function GroupLegend({ xs, labels }: any) {
  return (
    <>
      {GROUPS.map((g, i) => (
        <React.Fragment key={g}>
          <div style={{ position: "absolute", left: xs[i], top: 565, width: 5, height: 5, background: GROUP_COLORS[i], border: "0.5px solid #555" }} />
          <T x={labels[i]} y={568} style={{ fontSize: 9.5, color: "#333" }}>{g}</T>
        </React.Fragment>
      ))}
    </>
  );
}

function Gsea({ left, title, rank, es, hits, domain, ticks, nes, p, fdr, tx, ty, hitTop, hitW = 1 }: any) {
  const rows = rank.map((x: number, i: number) => ({ x, es: es[i] }));
  const ends = RIBBON_ENDS;
  const statStyle = { fontFamily: '"Noto Sans"', fontWeight: 600, fontSize: 10, color: "#111", transform: "scaleX(0.92) translateY(-50%)", transformOrigin: "left" };
  return (
    <>
      {title.map((line: string, i: number) => (
        <T key={line} x={left + 2 + (title.length === 1 ? 0 : 2)} y={(title.length === 1 ? 594 : 585.5) + i * 10.5} style={{ fontFamily: '"Noto Sans"', fontSize: 8.8, fontWeight: 600, color: "#222", letterSpacing: -0.2 }}>{line}</T>
      ))}
      <T x={left - 22} y={645} c style={{ fontSize: 9.5, color: "#555", transform: "translate(-50%,-50%) rotate(-90deg)", letterSpacing: 0.6 }}>Enrichment Score</T>
      <div style={{ position: "absolute", left: left - 14, top: 602 }}>
        <ComposedChart data={rows} width={216} height={86} margin={{ top: 0, right: 0, bottom: 0, left: 0 }}>
          <XAxis dataKey="x" type="number" domain={[0, 100]} hide />
          <YAxis
            type="number"
            domain={domain}
            ticks={ticks}
            interval={0}
            width={14}
            axisLine={false}
            tickSize={0}
            tickMargin={2}
            tick={{ fontSize: 5.5, fill: "#555", fontFamily: SANS }}
            allowDataOverflow
          />
          <ReferenceArea x1={0} x2={100} y1={domain[0]} y2={domain[1]} fill="none" stroke="#e0e0e0" />
          <ReferenceLine x={0} stroke="#d5d5d5" />
          <ReferenceLine y={0} stroke="#b5b5b5" strokeWidth={1.4} />
          <Line dataKey="es" type="linear" stroke="#2ee62e" strokeWidth={1.6} dot={false} activeDot={false} isAnimationActive={false} />
        </ComposedChart>
      </div>
      <div style={{ position: "absolute", left, top: hitTop }}>
        <ComposedChart data={[{ x: 0, z: 0 }, { x: 100, z: 0 }]} width={202} height={38} margin={{ top: 0, right: 0, bottom: 0, left: 0 }}>
          <XAxis dataKey="x" type="number" domain={[0, 100]} hide />
          <YAxis type="number" domain={[0, 38]} hide allowDataOverflow />
          <Line dataKey="z" stroke="none" dot={false} activeDot={false} isAnimationActive={false} />
          <ReferenceArea x1={0} x2={100} y1={0} y2={38} fill="none" stroke="#e4e4e4" />
          {hits.map((h: number) => (
            <ReferenceLine key={h} segment={[{ x: h, y: 10 }, { x: h, y: 38 }]} stroke={hitW > 1 ? "#111" : "#666"} strokeWidth={hitW} />
          ))}
          {ends.map((e: number, i: number) => (
            <ReferenceArea key={e} x1={i ? ends[i - 1] : 0} x2={e} y1={1} y2={10} fill={RIBBON_COLORS[i]} fillOpacity={1} stroke="none" />
          ))}
        </ComposedChart>
      </div>
      <T x={left + 0.5} y={hitTop + 41} style={{ fontSize: 4.8, color: "#e85b5b" }}>'LSC' (positively correlated)</T>
      <T x={left + 141} y={hitTop + 41} style={{ fontSize: 4.8, color: "#5a5ae0" }}>'HSC' (negatively correlated)</T>
      <T x={tx} y={ty} style={statStyle}>{nes}</T>
      <T x={tx} y={ty + 11.3} style={statStyle}><i>P</i> = {p}</T>
      <T x={tx} y={ty + 23} style={statStyle}>{fdr}</T>
    </>
  );
}

const heatColor = (v: number) => {
  const t = Math.min(1, Math.abs(v) / 1.9);
  const c = Math.round(255 * (1 - t));
  return v >= 0 ? `rgb(255,${c},${c})` : `rgb(${c},${c},255)`;
};

const LEADERS = ["298,190 315,185 337,166", "298,233 310,233 380,167", "410,180 418,166", "393,238 410,238 415,166", "465,270 480,270 485,166", "465,313 478,313 492,166", "465,345 483,345 497,166", "465,375 487,375 502,166", "465,405 490,405 507,166", "465,435 497,435 512,166", "475,490 492,490 520,250", "860,180 880,166", "990,185 985,166", "1015,215 1000,205 990,166", "1075,185 1075,166", "960,265 945,210 938,166", "975,300 958,300 905,166", "975,340 955,340 900,166", "970,380 955,380 885,170", "945,412 930,412 882,170", "945,462 925,462 880,170", "945,510 928,510 878,170"];
const GENE_LABELS: any[] = [["GYPC", 295, 190, "end"], ["C1QTNF4", 295, 233, "end"], ["BST2", 375, 190, "start"], ["AVP", 393, 240, "end", 1], ["CRHBP", 465, 272, "end", 1], ["RPS12", 465, 313, "end"], ["RPS21", 465, 345, "end"], ["RPS2", 465, 375, "end"], ["RPL23", 465, 405, "end"], ["RPLP1", 465, 435, "end"], ["CD34", 475, 490, "end", 1], ["VIM", 828, 190, "start", 1], ["CD99", 960, 193, "start", 1], ["S100A10", 1015, 220, "start", 1], ["CFD", 1110, 190, "start", 1], ["LGALS1", 965, 256, "start"], ["HOMER3", 983, 300, "start"], ["EMP3", 985, 340, "start"], ["DBI", 982, 380, "start"], ["PDLIM1", 955, 416, "start"], ["SH3BGRL3", 948, 462, "start"], ["FOXC1", 953, 510, "start"]];

const REG_COLORS = ["#22c4c8", "#f8605e"];
const REG_COLORS_GREY = ["#bdbdbd", "#f8605e"];
const REG_DOMAIN = [-0.583, 1.61];

function RegViolin({ x, top, h, yMin, yMax, ticks, widths, levels = LV_REG, colors = REG_COLORS }: any) {
  return <Violin x={x} top={top} w={79} h={h} yMin={yMin} yMax={yMax} ticks={ticks} levels={levels} widths={widths} colors={colors} centers={[0, 1]} xDomain={REG_DOMAIN} font={8.5} yw={14} />;
}

const RegAxisLabels = ({ a, b }: any) => (
  <>
    {[a, b].map((x: number, i: number) =>
      (i === 0 ? ["HSC", "in CON,", "CR"] : ["LC", "in Dx,", "Rel"]).map((s, k) => (
        <T key={s} x={x} y={1089 + k * 12.5} c style={{ fontSize: 10.5, color: "#333" }}>{s}</T>
      ))
    )}
  </>
);

export default function App() {
  const core = band(UMAP_X, UMAP_TOP, UMAP_BOTTOM);
  const hBody = band(H_X, H_TOP, H_BOTTOM);
  const hArm = band(H_ARM_X, H_ARM_TOP, H_ARM_BOTTOM);
  const hMix = band(H_MIX_X, H_MIX_TOP, H_MIX_BOTTOM);
  const heatRows = REG_GENES.map((name) => ({ name, c0: 1, c1: 1, c2: 1, c3: 1, c4: 1, c5: 1 }));
  const cCenters = [0, 1, 2, 3];
  const cDomain = [-0.6, 3.58];
  const violinProps = { x: 627, w: 128, colors: GROUP_COLORS, centers: cCenters, xDomain: cDomain, font: 9.5, yw: 20 };

  return (
    <div style={{ position: "absolute", left: 0, top: 0, width: 794, height: 1122, background: "#fff", overflow: "hidden", fontFamily: SANS }}>
      {/* A */}
      <Letter x={8} y={16}>A</Letter>
      <Title x={79} y={23}>AVP</Title>
      <Title x={182} y={23}>CRHBP</Title>
      <Title x={64} y={168}>CD34</Title>
      <Title x={181} y={168}>CD99</Title>
      <Umap left={20} top={30} bands={[{ data: core, fill: GREY }]} layers={[{ points: UMAP_GREY, fill: GREY }, { points: AVP_GREEN, fill: GREEN }, { points: AVP_BLUE, fill: NAVY }]} />
      <Umap left={133} top={30} bands={[{ data: core, fill: GREY }]} layers={[{ points: UMAP_GREY, fill: GREY }, { points: CRHBP_GREEN, fill: GREEN }, { points: CRHBP_BLUE, fill: NAVY }]} />
      <Umap left={21} top={173} bands={[{ data: core, fill: GREY }]} layers={[{ points: UMAP_GREY, fill: GREY }, { points: CD34_GREEN, fill: GREEN }, { points: CD34_GREEN2, fill: GREEN }, { points: CD34_BLUE, fill: NAVY }]} />
      <Umap left={133} top={173} bands={[{ data: core, fill: GREY }, { data: band(UMAP_X, CD99_TOP, CD99_BOTTOM), fill: "#0f6210" }]} layers={[{ points: UMAP_GREY, fill: GREY }, { points: CD99_GREY, fill: GREY }, { points: CD99_GREEN, fill: GREEN }, { points: CD99_BLUE, fill: NAVY, r: 1.1 }]} />
      <ColorBar x={241} y={127} h={62} lx={259} labels={["3.0", "2.5", "2.0", "1.5", "1.0"]} />

      {/* B */}
      <Letter x={266} y={16}>B</Letter>
      <Frame x={290} y={18} w={141} h={128} title="CON" tx={358} ty={27} />
      <Frame x={437} y={19} w={141} h={127} title="Dx" tx={507} ty={28} />
      <Frame x={290} y={166} w={141} h={127} title="CR" tx={360} ty={174} />
      <Frame x={436} y={165} w={141} h={127} title="Rel" tx={505} ty={174} />
      <Umap left={290} top={18} w={140} h={128} ux={140} uy={128} bands={[{ data: band(CON_TEAL_X, CON_TEAL_TOP, CON_TEAL_BOTTOM), fill: TEAL, opacity: 0.85 }]} layers={[{ points: CON_SALMON, fill: SALMON, r: 0.8 }, { points: CON_TEAL, fill: TEAL, r: 0.9 }]} />
      <Umap left={437} top={19} w={140} h={127} ux={140} uy={127} bands={[{ data: band(DX_X, DX_TOP, DX_BOTTOM), fill: SALMON }, { data: band(DX_TEAL_X, DX_TEAL_TOP, DX_TEAL_BOTTOM), fill: TEAL }]} layers={[{ points: DX_SALMON, fill: SALMON }, { points: DX_SALMON_IN, fill: SALMON }, { points: DX_TEAL, fill: TEAL }]} />
      <Umap left={290} top={166} w={140} h={127} ux={140} uy={127} bands={[{ data: band(CR_TEAL_X, CR_TEAL_TOP, CR_TEAL_BOTTOM), fill: TEAL }]} layers={[{ points: CR_SALMON, fill: SALMON, r: 0.8 }, { points: CR_TEAL, fill: TEAL, r: 0.9 }]} />
      <Umap left={436} top={165} w={140} h={127} ux={140} uy={127} bands={[{ data: band(REL_X, REL_TOP, REL_BOTTOM), fill: SALMON }]} layers={[{ points: REL_WHITE, fill: "#fbd2cd", r: 0.8 }, { points: REL_SALMON, fill: SALMON }, { points: REL_TEAL, fill: TEAL }]} />
      <div style={{ position: "absolute", left: 540, top: 265, width: 6, height: 6, borderRadius: 3, background: SALMON }} />
      <div style={{ position: "absolute", left: 540, top: 276, width: 6, height: 6, borderRadius: 3, background: TEAL }} />
      <T x={549} y={268} style={{ fontSize: 9.5, color: "#444" }}>LC</T>
      <T x={549} y={279} style={{ fontSize: 9.5, color: "#444" }}>HSC</T>

      {/* C */}
      <Letter x={595} y={16}>C</Letter>
      <Title x={690} y={24} size={12.5}>AVP</Title>
      <Violin {...violinProps} top={32} h={45} yMin={-0.2} yMax={4.2} ticks={[0, 1, 2, 3, 4]} levels={LV_AVP} widths={[AVP_CON, AVP_DX, AVP_CR, AVP_REL]} />
      <Title x={688} y={94} size={12.5}>CRHBP</Title>
      <Violin {...violinProps} top={102} h={46} yMin={-0.15} yMax={3.4} ticks={[0, 1, 2, 3]} levels={LV_CRHBP} widths={[CRHBP_CON, CRHBP_DX, CRHBP_CR, CRHBP_REL]} />
      <Title x={689} y={164} size={12.5}>CD34</Title>
      <Violin {...violinProps} top={172} h={46} font={8.5} yMin={-0.12} yMax={2.56} ticks={[0, 0.5, 1, 1.5, 2, 2.5]} levels={LV_CD34} widths={[CD34_CON, CD34_DX, CD34_CR, CD34_REL]} />
      <Title x={688} y={229} size={12.5}>CD99</Title>
      <Violin {...violinProps} top={248} h={45} yMin={-0.2} yMax={4.3} ticks={[0, 1, 2, 3, 4]} levels={LV_CD99} widths={[CD99_CON, CD99_DX, CD99_CR, CD99_REL]} />
      <T x={599} y={148} c style={{ fontSize: 12.5, color: "#333", transform: "translate(-50%,-50%) rotate(-90deg)" }}>Expression Level</T>
      {GROUPS.map((g, i) => (
        <T key={g} x={[645, 675, 707, 737][i]} y={304} c style={{ fontSize: 11, color: "#333" }}>{g}</T>
      ))}
      <Bracket x1={645} x2={737} y={240} />
      <Bracket x1={645} x2={675} y={245} />
      <Bracket x1={677} x2={705} y={245} />
      <Bracket x1={707} x2={737} y={245} />
      {[[691, 238], [660, 243], [691, 243], [722, 243]].map(([x, y]) => (
        <T key={x + "-" + y} x={x} y={y} c style={{ fontSize: 7, color: "#555" }}>***</T>
      ))}

      {/* D */}
      <Letter x={17} y={316}>D</Letter>
      <BoxPlot left={65} q1={HSC_Q1} med={HSC_MED} q3={HSC_Q3} low={HSC_LOW} high={HSC_HIGH} out={HSC_OUT} />
      <BoxPlot left={226} q1={ERY_Q1} med={ERY_MED} q3={ERY_Q3} low={ERY_LOW} high={ERY_HIGH} out={ERY_OUT} />
      <Bracket x1={93} x2={111} y={344} />
      <Bracket x1={93} x2={129} y={329} />
      <Bracket x1={93} x2={148} y={315} />
      <PVal x={106} y={338} />
      <PVal x={112} y={324} />
      <PVal x={119} y={310} />
      <Bracket x1={254} x2={272} y={344} />
      <Bracket x1={254} x2={290} y={329} />
      <Bracket x1={254} x2={308} y={315} />
      <PVal x={267} y={338} />
      <PVal x={272} y={324} />
      <PVal x={280} y={310} />
      <T x={45} y={441} c style={{ fontSize: 10, color: "#333", transform: "translate(-50%,-50%) rotate(-90deg)" }}>log<span style={{ fontSize: 7 }}>2</span> (HSC module)</T>
      <T x={203} y={441} c style={{ fontSize: 10, color: "#333", transform: "translate(-50%,-50%) rotate(-90deg)" }}>log<span style={{ fontSize: 7 }}>2</span> (Erythrocyte differentiation module)</T>
      <GroupLegend xs={[74, 105, 127, 150]} labels={[81, 112, 133, 156]} />
      <GroupLegend xs={[234, 265, 287, 310]} labels={[241, 272, 294, 317]} />
      <div style={{ position: "absolute", left: 328, top: 323, width: 1, height: 93, background: "#ddd" }} />
      <div style={{ position: "absolute", left: 328, top: 476, width: 1, height: 74, background: "#ddd" }} />

      {/* E */}
      <Letter x={369} y={322}>E</Letter>
      <T x={565} y={336} c style={{ fontSize: 14.5, fontWeight: 700, color: "#222" }}>
        <span style={{ color: "#0a72c4" }}>HSC at CON, CR</span> vs <span style={{ color: "#c00000" }}>LC at Dx, Rel</span>
      </T>
      <div style={{ position: "absolute", left: 408, top: 350 }}>
        <ComposedChart width={338} height={192} margin={{ top: 5, right: 5, bottom: 11, left: 0 }}>
          <CartesianGrid stroke="#cfcfcf" strokeWidth={1.2} />
          <XAxis dataKey="x" type="number" domain={[-2.5, 2.5]} ticks={[-2.5, -1.5, -0.5, 0, 0.5, 1.5, 2.5]} hide />
          <YAxis
            dataKey="y"
            type="number"
            domain={[0, 309]}
            ticks={[0, 50, 100, 150, 200, 250, 300]}
            interval={0}
            width={1}
            axisLine={false}
            tickLine={false}
            tick={(p: any) => (
              <text x={157} y={p.y + 4} textAnchor="end" fontSize={9.5} fill="#8a8a8a" fontFamily={SANS}>{p.payload.value}</text>
            )}
          />
          <ReferenceLine x={0} stroke="#c4c4c4" strokeWidth={2} />
          <ReferenceLine y={309} stroke="#c8c8c8" strokeWidth={1.5} />
          <Scatter data={pts(VOLCANO_BLACK_L)} dataKey="y" shape={dot(2.3, "#262626", "#555")} isAnimationActive={false} />
          <Area data={band(VOLCANO_BLACK_CORE_X, VOLCANO_BLACK_CORE_LOW, VOLCANO_BLACK_CORE_HIGH)} dataKey="band" type="monotone" stroke="none" fill="#0e0e0e" fillOpacity={1} dot={false} activeDot={false} isAnimationActive={false} />
          <Scatter data={pts(VOLCANO_BLACK_R)} dataKey="y" shape={dot(2.3, "#111", "#333")} isAnimationActive={false} />
          <Scatter data={pts(VOLCANO_BLUE)} dataKey="y" shape={dot(2.4, "#1763b4", "#0c4283")} isAnimationActive={false} />
          <Area data={band(VOLCANO_RED_CORE_X, VOLCANO_RED_CORE_LOW, VOLCANO_RED_CORE_HIGH)} dataKey="band" type="monotone" stroke="none" fill="#d81a1e" fillOpacity={1} dot={false} activeDot={false} isAnimationActive={false} />
          <Scatter data={pts(VOLCANO_RED)} dataKey="y" shape={dot(2.4, "#ee1a20", "#b01418")} isAnimationActive={false} />
        </ComposedChart>
      </div>
      {[-2.5, -1.5, -0.5, 0.5, 1.5, 2.5].map((v) => (
        <T key={v} x={409 + (v + 2.5) * 66.26} y={544} c style={{ fontSize: 9.5, color: "#777" }}>{v}</T>
      ))}
      <T x={575} y={562} c style={{ fontSize: 9.5, color: "#777" }}>avg_logFC</T>
      <T x={403} y={440} c style={{ fontSize: 9.5, color: "#999", transform: "translate(-50%,-50%) rotate(-90deg)" }}>-Log10(<i>P</i>)</T>
      <svg width={434} height={270} viewBox="0 0 1302 810" style={{ position: "absolute", left: 360, top: 300 }}>
        {LEADERS.map((d) => (
          <polyline key={d} points={d} fill="none" stroke="#a8a8a8" strokeWidth={2.6} />
        ))}
        {GENE_LABELS.map(([g, x, y, anchor, bold]) => (
          <text key={g} x={x} y={y + 8} textAnchor={anchor} fontSize={25} fontStyle="italic" fontWeight={bold ? 700 : 400} fill={bold ? "#333" : "#666"} fontFamily={SANS}>{g}</text>
        ))}
      </svg>

      {/* F */}
      <Letter x={22} y={585}>F</Letter>
      <Gsea left={52} title={["Enrichment plot: GOBP_LYMPHANGIGENESIS"]} rank={F1_RANK} es={F1_ES} hits={F1_HITS} domain={[-0.02, 0.858]} ticks={[0, 0.1, 0.2, 0.3, 0.4, 0.5, 0.6, 0.7, 0.8]} nes="NES = 1.76" p="0.003" fdr="FDR = 0.022" tx={60} ty={653} hitTop={690} hitW={1} />
      <Gsea left={294} title={["Enrichment plot:", "KEGG_WNT_SIGNALING_PATHWAY"]} rank={F2_RANK} es={F2_ES} hits={F2_HITS} domain={[-0.042, 0.588]} ticks={[0, 0.1, 0.2, 0.3, 0.4, 0.5]} nes="NES = 1.64" p="0.0" fdr="FDR = 0.014" tx={302} ty={655.5} hitTop={692} hitW={1.1} />
      <Gsea left={539} title={["Enrichment plot:", "KEGG_PATHWAY_IN_CANCER"]} rank={F3_RANK} es={F3_ES} hits={F3_HITS} domain={[-0.132, 0.498]} ticks={[-0.1, 0, 0.1, 0.2, 0.3, 0.4]} nes="NES = 1.45" p="0.001" fdr="FDR = 0.082" tx={546} ty={654} hitTop={692} hitW={1.2} />

      {/* G */}
      <Letter x={16} y={755}>G</Letter>
      <div style={{ position: "absolute", left: 40, top: 752 }}>
        <BarChart data={heatRows} layout="vertical" width={152} height={277} barCategoryGap={0} margin={{ top: 0, right: 0, bottom: 0, left: 0 }}>
          <XAxis type="number" domain={[0, 6]} hide />
          <YAxis type="category" dataKey="name" hide />
          {HEAT_COLS.map((col, c) => (
            <Bar key={col} dataKey={"c" + c} stackId="heat" stroke="#b0b0b0" strokeWidth={0.7} isAnimationActive={false}>
              {REG_GENES.map((g, r) => (
                <Cell key={g} fill={heatColor(HEAT_VALUES[r][c])} />
              ))}
            </Bar>
          ))}
        </BarChart>
      </div>
      {REG_GENES.map((g, i) => (
        <T key={g} x={200} y={759 + i * 14.57} style={{ fontSize: 12, color: REG_RED.includes(g) ? "#d81e1e" : "#222" }}>
          <i>{g}</i>{REG_SUFFIX[i]}
        </T>
      ))}
      {HEAT_COLS.map((col, i) => (
        <div key={col} style={{ position: "absolute", left: 46 + i * 25.3, top: 1033, writingMode: "vertical-rl", fontSize: 9.5, lineHeight: "12px", whiteSpace: "nowrap", color: "#333", fontWeight: i === 2 || i === 5 ? 700 : 400 }}>{col}</div>
      ))}
      <div style={{ position: "absolute", left: 88.5, top: 748, width: 29, height: 355, border: "2px solid #1414f0", boxSizing: "border-box" }} />
      <div style={{ position: "absolute", left: 165, top: 748, width: 29, height: 355, border: "2px solid #f01414", boxSizing: "border-box" }} />
      <T x={274} y={757} style={{ fontFamily: '"Noto Sans"', fontSize: 11.5, fontWeight: 700, color: "#222" }}>Regulon activity</T>
      <div style={{ position: "absolute", left: 338, top: 765, width: 7, height: 108, background: "linear-gradient(to bottom,#ff0000,#ffffff 50%,#0000ff)" }} />
      {["1.5", "1", "0.5", "0", "-0.5", "-1", "-1.5"].map((l, i) => (
        <T key={l} x={349} y={777 + i * 14} style={{ fontSize: 8, color: "#555" }}>{l}</T>
      ))}

      {/* H */}
      <Letter x={388} y={757}>H</Letter>
      <Title x={475} y={758} size={13}>FOXC1</Title>
      <Title x={647} y={759} size={13}>CEBPA</Title>
      <Umap left={410} top={770} w={130} h={115} ux={130} uy={115} bands={[{ data: hBody, fill: GREY }, { data: hArm, fill: "#cccccc" }, { data: hMix, fill: "#7fa87f", opacity: 0.3 }]} layers={[{ points: H_GREY, fill: GREY }, { points: FOXC1_GREEN, fill: GREEN, r: 0.95 }, { points: FOXC1_GREEN2, fill: GREEN, r: 0.95 }, { points: H_MOTTLE, fill: GREY, r: 0.9 }, { points: FOXC1_BLUE, fill: NAVY }]} />
      <Umap left={582} top={762} w={135} h={123} ux={135} y0={-8} uy={115} bands={[{ data: hBody, fill: GREY }, { data: hArm, fill: "#cccccc" }, { data: hMix, fill: "#5f955f", opacity: 0.4 }]} layers={[{ points: H_GREY, fill: GREY }, { points: CEBPA_GREEN, fill: GREEN, r: 0.95 }, { points: CEBPA_GREEN2, fill: GREEN, r: 0.95 }, { points: H_MOTTLE, fill: GREY, r: 0.8 }, { points: CEBPA_BLUE, fill: NAVY }]} />
      <T x={738} y={765} style={{ fontFamily: '"Noto Sans"', fontSize: 10.5, fontWeight: 600, color: "#222" }}>expression</T>
      <ColorBar x={735} y={780} h={56} w={11} lx={751} labels={["3.0", "2.5", "2.0", "1.5", "1.0"]} />

      {/* I */}
      <Letter x={343} y={889}>I</Letter>
      <T x={397} y={890} style={{ fontSize: 11.5, fontWeight: 700, color: "#222", textDecoration: "underline" }}>Regulons of <i>FOXC1</i></T>
      <T x={350} y={1004} c style={{ fontSize: 12.5, color: "#333", transform: "translate(-50%,-50%) rotate(-90deg)" }}>Expression Level</T>
      <Title x={408} y={905}>SEPP1</Title>
      <RegViolin x={367} top={910} h={47} yMin={-0.1} yMax={3.7} ticks={[0, 1, 2, 3]} widths={SEPP1_V} />
      <Title x={512} y={905}>IGFBP2</Title>
      <RegViolin x={473} top={910} h={47} yMin={-0.1} yMax={3.55} ticks={[0, 1, 2, 3]} widths={IGFBP2_V} />
      <Title x={408} y={967}>CAV2</Title>
      <RegViolin x={367} top={972} h={46} yMin={-0.15} yMax={3.6} ticks={[0, 1, 2, 3]} widths={CAV2_V} colors={REG_COLORS_GREY} />
      <Title x={513} y={967}>SOX4</Title>
      <RegViolin x={473} top={970} h={48} yMin={-0.2} yMax={5.2} ticks={[0, 1, 2, 3, 4, 5]} levels={LV_SOX4} widths={SOX4_V} />
      <Title x={410} y={1028}>LTBP1</Title>
      <RegViolin x={367} top={1033} h={48} yMin={-0.14} yMax={3.2} ticks={[0, 1, 2, 3]} widths={LTBP1_V} colors={REG_COLORS_GREY} />
      <Title x={513} y={1028}>BAZ2B</Title>
      <RegViolin x={473} top={1033} h={48} yMin={-0.2} yMax={3.2} ticks={[0, 1, 2, 3]} widths={BAZ2B_V} />
      <RegAxisLabels a={388} b={424} />
      <RegAxisLabels a={494} b={529} />

      {/* J */}
      <Letter x={561} y={889}>J</Letter>
      <T x={619} y={890} style={{ fontSize: 11.5, fontWeight: 700, color: "#222", textDecoration: "underline" }}>Regulons of <i>CEBPA</i></T>
      <T x={576} y={1003} c style={{ fontSize: 12.5, color: "#333", transform: "translate(-50%,-50%) rotate(-90deg)" }}>Expression Level</T>
      <Title x={632} y={905}>PLEK</Title>
      <RegViolin x={592} top={909} h={48} yMin={-0.15} yMax={4.2} ticks={[0, 1, 2, 3, 4]} widths={PLEK_V} />
      <Title x={735} y={905}>RNF24</Title>
      <RegViolin x={695} top={910} h={47} yMin={-0.2} yMax={3.85} ticks={[0, 1, 2, 3]} widths={RNF24_V} />
      <Title x={631} y={967}>MLC1</Title>
      <RegViolin x={592} top={971} h={47} yMin={-0.2} yMax={3.85} ticks={[0, 1, 2, 3]} widths={MLC1_V} />
      <Title x={737} y={967}>NFE2</Title>
      <RegViolin x={695} top={971} h={47} yMin={-0.17} yMax={3.2} ticks={[0, 1, 2, 3]} widths={NFE2_V} />
      <Title x={628} y={1028}>FAM46A</Title>
      <RegViolin x={592} top={1033} h={48} yMin={-0.17} yMax={3.95} ticks={[0, 1, 2, 3]} widths={FAM46A_V} />
      <Title x={738} y={1028}>LNPEP</Title>
      <RegViolin x={695} top={1033} h={48} yMin={-0.12} yMax={3.25} ticks={[0, 1, 2, 3]} widths={LNPEP_V} />
      <RegAxisLabels a={613} b={648} />
      <RegAxisLabels a={717} b={753} />
    </div>
  );
}
